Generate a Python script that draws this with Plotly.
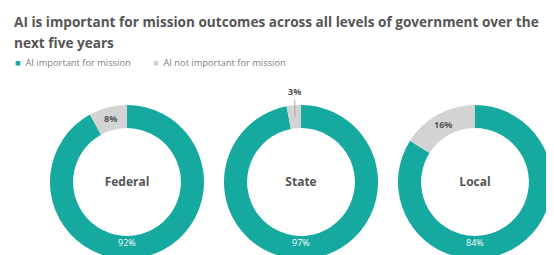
import math
import plotly.graph_objects as go

# ---- data ----
levels = ["Federal", "State", "Local"]
important = [92, 97, 84]
not_important = [8, 3, 16]
series_names = ["AI important for mission", "AI not important for mission"]
title_lines = ["AI is important for mission outcomes across all levels of government over the",
               "next five years"]

# ---- style / geometry (page pixels) ----
OFF = 8                      # default body margin of the html page
W, H = 554 - OFF, 262        # figure size
TEAL = "#15A9A0"
GRAY = "#D3D3D3"
TEXT_DARK = "#555555"
centers_px = [127, 301, 475]
cy_px = 182
R = 77
HOLE = 0.70
FONT = "Open Sans"

fig = go.Figure()
annotations = []

def px_to_paper(x, y):
    return (x - OFF) / W, 1 - (y - OFF) / H

for name, t, g, cx in zip(levels, important, not_important, centers_px):
    x0, y0 = px_to_paper(cx - R, cy_px - R)
    x1, y1 = px_to_paper(cx + R, cy_px + R)
    fig.add_trace(go.Pie(
        labels=series_names,
        values=[t, g],
        marker=dict(colors=[TEAL, GRAY], line=dict(width=0)),
        hole=HOLE,
        sort=False,
        direction="clockwise",
        rotation=0,
        textinfo="none",
        hoverinfo="label+percent",
        showlegend=False,
        domain=dict(x=[x0, x1], y=[y1, y0]),
        title=dict(text=f"<b>{name}</b>", position="middle center",
                   font=dict(family=FONT, size=12, color=TEXT_DARK)),
    ))
    rm = R * (1 + HOLE) / 2
    # teal label near the bottom of the ring
    x, y = px_to_paper(cx, cy_px + rm - 5)
    annotations.append(dict(x=x, y=y, xref="paper", yref="paper", text=f"{t}%",
                            xanchor="center", yanchor="middle",
                            showarrow=False, font=dict(family=FONT, size=9, color="white")))
    # gray label
    theta = math.radians(360 * (t + g / 2) / 100)
    gx = cx + rm * math.sin(theta)
    gy = cy_px - rm * math.cos(theta)
    x, y = px_to_paper(gx, gy)
    if g >= 5:
        annotations.append(dict(x=x, y=y, xref="paper", yref="paper", text=f"<b>{g}%</b>",
                                xanchor="center", yanchor="middle",
                                showarrow=False, font=dict(family=FONT, size=9, color=TEXT_DARK)))
    else:
        annotations.append(dict(x=x, y=y, xref="paper", yref="paper", text=f"<b>{g}%</b>",
                                showarrow=True, arrowhead=0, arrowwidth=0.8, arrowcolor="#9a9a9a",
                                ax=0, ay=-(gy - (cy_px - R) + 5), xanchor="center", yanchor="bottom",
                                font=dict(family=FONT, size=9, color=TEXT_DARK)))

# legend as annotations
legend_items = [(series_names[0], TEAL, 13), (series_names[1], GRAY, 151)]
for label, col, lx in legend_items:
    x, y = px_to_paper(lx, 63)
    annotations.append(dict(x=x, y=y, xref="paper", yref="paper", xanchor="left", yanchor="middle",
                            text=f'<span style="color:{col}">■</span>  {label}',
                            showarrow=False, font=dict(family=FONT, size=9.3, color="#808080")))

# title (two lines)
for line, ly in zip(title_lines, [22, 42]):
    x, y = px_to_paper(12, ly)
    annotations.append(dict(x=x, y=y, xref="paper", yref="paper", xanchor="left", yanchor="middle",
                            align="left", showarrow=False, text=f"<b>{line}</b>",
                            font=dict(family=FONT, size=13.6, color=TEXT_DARK)))

fig.update_layout(
    width=W, height=H,
    margin=dict(l=0, r=0, t=0, b=0),
    paper_bgcolor="white",
    plot_bgcolor="white",
    annotations=annotations,
)

fig.write_html("out.html")
